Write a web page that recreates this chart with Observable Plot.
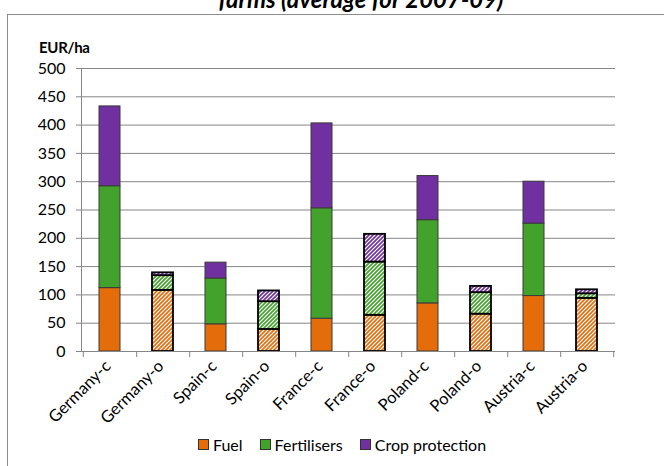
<!DOCTYPE html>
<html>
<head>
<meta charset="utf-8">
<script src="https://cdn.jsdelivr.net/npm/d3@7"></script>
<script src="https://cdn.jsdelivr.net/npm/@observablehq/plot@0.6"></script>
<style>
  body { margin: 0; background: #fff; width: 664px; height: 466px; overflow: hidden; position: relative; font-family: Lato, "Noto Sans", sans-serif; }
  #frame { position: absolute; left: 7px; top: 14px; width: 720px; height: 520px; border-left: 1.5px solid #8c8c8c; border-top: 1.5px solid #8c8c8c; }
  #title { position: absolute; top: -16px; left: 0; width: 722px; text-align: center; font-weight: bold; font-style: italic; font-size: 24px; white-space: nowrap; }
  #chart { position: absolute; left: 0; top: 0; }
  #ylabel { position: absolute; left: 39px; top: 38px; font-weight: bold; font-size: 15px; letter-spacing: -0.3px; }
  #legend { position: absolute; top: 435px; left: 198px; display: flex; align-items: center; font-size: 16px; }
  #legend .item { display: flex; align-items: center; margin-right: 17px; }
  #legend .sw { width: 9px; height: 9px; border: 1px solid #333; margin-right: 4px; }
</style>
</head>
<body>
<div id="title">farms (average for 2007-09)</div>
<div id="frame"></div>
<div id="chart"></div>
<div id="ylabel">EUR/ha</div>
<div id="legend"></div>
<script>
// Cost per hectare, conventional (-c) and organic (-o) farms
const categories = ["Germany-c", "Germany-o", "Spain-c", "Spain-o", "France-c", "France-o", "Poland-c", "Poland-o", "Austria-c", "Austria-o"];
const fuel = [112, 108, 48, 39, 58, 64, 85, 66, 98, 94];
const fertilisers = [180, 26, 81, 49, 195, 94, 147, 38, 128, 8];
const cropProtection = [141, 5, 28, 19, 150, 49, 78, 11, 74, 7];
const components = ["Fuel", "Fertilisers", "Crop protection"];
const componentColors = ["#E46C0A", "#43A22B", "#7030A0"];
const yTicks = [0, 50, 100, 150, 200, 250, 300, 350, 400, 450, 500];

const series = [fuel, fertilisers, cropProtection];
const rows = categories.flatMap((category, i) =>
  components.map((component, j) => {
    const organic = category.endsWith("-o");
    return {
      category,
      component,
      value: series[j][i],
      organic,
      fill: organic ? `url(#hatch-${j})` : componentColors[j]
    };
  })
);

const width = 664, height = 430;
const marginLeft = 81, marginRight = 49;
const half = (width - marginLeft - marginRight) / categories.length / 2;
const axisGray = "#868686";

const stackOpts = (extra) => Plot.stackY({
  x: "category", y: "value", z: "component", order: components, fill: "fill", ...extra
});

const chart = Plot.plot({
  width, height,
  marginLeft, marginRight, marginTop: 68, marginBottom: 79,
  style: { fontFamily: "Lato, 'Noto Sans', sans-serif", fontSize: "16px", color: "#000", background: "transparent" },
  x: { domain: categories, paddingInner: 0.607, paddingOuter: 0.3035, label: null },
  y: { domain: [0, 500], label: null },
  color: { type: "identity" },
  marks: [
    Plot.gridY(yTicks, { stroke: axisGray, strokeOpacity: 1 }),
    Plot.barY(rows.filter(d => !d.organic), stackOpts({ stroke: "#3a3a3a", strokeWidth: 1 })),
    Plot.barY(rows.filter(d => d.organic), stackOpts({ stroke: "#000", strokeWidth: 1.8 })),
    Plot.frame({ anchor: "left", stroke: axisGray }),
    Plot.ruleY([0], { stroke: axisGray }),
    Plot.axisY(yTicks, { tickSize: 5, tickPadding: 11, stroke: axisGray, fill: "#000", fontSize: 16 }),
    Plot.axisX({ tickSize: 0, tickRotate: -45, tickPadding: 12, dx: -2, fill: "#000", fontSize: 16.5 }),
    Plot.axisX({ tickSize: 6, tickFormat: () => "", dx: half, stroke: axisGray }),
    Plot.axisX([categories[0]], { tickSize: 6, tickFormat: () => "", dx: -half, stroke: axisGray })
  ]
});

// Diagonal hatching used for the organic bars
const defs = d3.select(chart).insert("defs", ":first-child");
componentColors.forEach((c, j) => {
  const p = defs.append("pattern")
    .attr("id", `hatch-${j}`)
    .attr("patternUnits", "userSpaceOnUse")
    .attr("width", 4).attr("height", 4);
  p.append("rect").attr("width", 4).attr("height", 4).attr("fill", "#fff");
  p.append("path")
    .attr("d", "M-1,1 L1,-1 M0,4 L4,0 M3,5 L5,3")
    .attr("stroke", c).attr("stroke-width", 1.6);
});

document.getElementById("chart").appendChild(chart);

const legend = d3.select("#legend");
components.forEach((k, j) => {
  const item = legend.append("div").attr("class", "item");
  item.append("div").attr("class", "sw").style("background", componentColors[j]);
  item.append("span").text(k);
});
</script>
</body>
</html>
